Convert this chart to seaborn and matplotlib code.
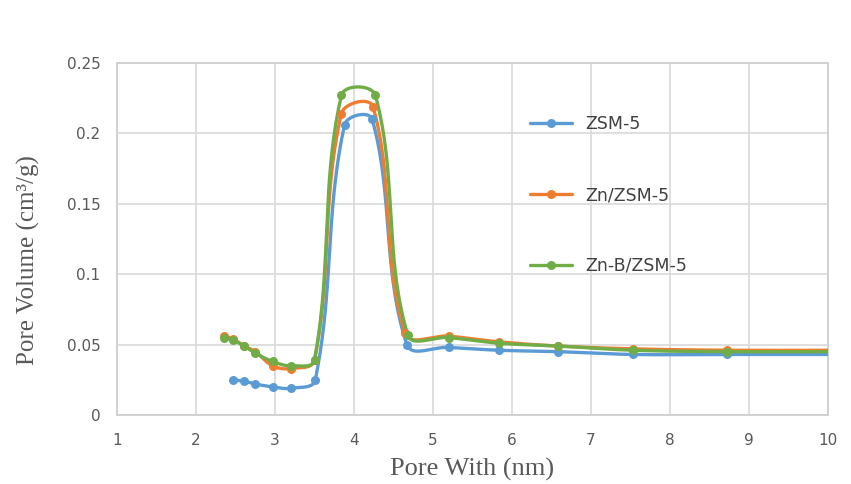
import numpy as np
import pandas as pd
import matplotlib
matplotlib.use("Agg")
import matplotlib.pyplot as plt
from matplotlib.lines import Line2D
import seaborn as sns

# ---- data ----
series_names = ["ZSM-5", "Zn/ZSM-5", "Zn-B/ZSM-5"]
x_zsm5 = [2.47, 2.61, 2.75, 2.97, 3.20, 3.51, 3.88, 4.23, 4.67, 5.20, 5.83, 6.58, 7.53, 8.72, 10.3]
y_zsm5 = [0.025, 0.024, 0.022, 0.020, 0.019, 0.025, 0.206, 0.210, 0.050, 0.048, 0.046, 0.045, 0.043, 0.043, 0.043]
x_zn = [2.35, 2.47, 2.61, 2.75, 2.97, 3.20, 3.50, 3.84, 4.24, 4.65, 5.20, 5.83, 6.58, 7.53, 8.72, 10.3]
y_zn = [0.056, 0.054, 0.049, 0.045, 0.035, 0.033, 0.039, 0.214, 0.219, 0.058, 0.056, 0.052, 0.049, 0.047, 0.046, 0.046]
x_znb = [2.35, 2.47, 2.61, 2.75, 2.97, 3.20, 3.50, 3.84, 4.27, 4.68, 5.20, 5.83, 6.58, 7.53, 8.72, 10.3]
y_znb = [0.055, 0.053, 0.049, 0.044, 0.038, 0.035, 0.039, 0.227, 0.227, 0.057, 0.055, 0.051, 0.049, 0.046, 0.045, 0.045]
x_ticks = [1, 2, 3, 4, 5, 6, 7, 8, 9, 10]
y_ticks = [0, 0.05, 0.10, 0.15, 0.20, 0.25]
y_tick_labels = ["0", "0.05", "0.1", "0.15", "0.2", "0.25"]
colors = ["#5B9BD5", "#ED7D31", "#70AD47"]


def smooth(xs, ys, sx=79.0, sy=1408.0, f=0.38, n=40):
    """Excel-like smoothed line: Bezier segments with chord-weighted tangents."""
    P = np.column_stack([np.asarray(xs) * sx, np.asarray(ys) * sy])
    m = len(P)
    out = [P[0]]
    for i in range(m - 1):
        p0 = P[i - 1] if i > 0 else P[i]
        p1, p2 = P[i], P[i + 1]
        p3 = P[i + 2] if i + 2 < m else P[i + 1]
        d01 = np.linalg.norm(p1 - p0)
        d12 = np.linalg.norm(p2 - p1)
        d23 = np.linalg.norm(p3 - p2)
        w1 = d12 / (d01 + d12) if (d01 + d12) > 0 else 0
        w2 = d12 / (d12 + d23) if (d12 + d23) > 0 else 0
        c1 = p1 + (p2 - p0) * f * w1
        c2 = p2 - (p3 - p1) * f * w2
        t = np.linspace(0, 1, n)[1:, None]
        seg = ((1 - t) ** 3) * p1 + 3 * ((1 - t) ** 2) * t * c1 + 3 * (1 - t) * t ** 2 * c2 + t ** 3 * p2
        out.extend(seg)
    out = np.array(out)
    return out[:, 0] / sx, out[:, 1] / sy


sns.set_style("white")
plt.rcParams["font.family"] = ["DejaVu Sans"]

fig = plt.figure(figsize=(8.51, 4.84), dpi=100)
ax = fig.add_axes([117 / 851, 1 - 415 / 484, (828 - 117) / 851, (415 - 63) / 484])

all_x = [x_zsm5, x_zn, x_znb]
all_y = [y_zsm5, y_zn, y_znb]
for name, xs, ys, c in zip(series_names, all_x, all_y, colors):
    cx, cy = smooth(xs, ys)
    curve = pd.DataFrame({"x": cx, "y": cy})
    sns.lineplot(data=curve, x="x", y="y", sort=False, estimator=None, color=c,
                 linewidth=2.4, ax=ax, legend=False, zorder=3)
    pts = pd.DataFrame({"x": xs, "y": ys})
    sns.scatterplot(data=pts, x="x", y="y", color=c, s=42, linewidth=0,
                    ax=ax, legend=False, zorder=4, clip_on=True)

ax.set_xlim(1, 10)
ax.set_ylim(0, 0.25)
ax.set_xticks(x_ticks)
ax.set_xticklabels([str(v) for v in x_ticks])
ax.set_yticks(y_ticks)
ax.set_yticklabels(y_tick_labels)
ax.tick_params(axis="both", length=0, labelsize=11, colors="#595959")
ax.tick_params(axis="x", pad=13)
ax.tick_params(axis="y", pad=12)
ax.grid(True, color="#d9d9d9", linewidth=1.2)
ax.set_axisbelow(True)
for s in ax.spines.values():
    s.set_visible(True)
    s.set_color("#cfcfcf")
    s.set_linewidth(1.3)

ax.set_xlabel("Pore With (nm)", family="Liberation Serif", fontsize=19, color="#595959")
ax.set_ylabel("Pore Volume (cm³/g)", family="Liberation Serif", fontsize=18, color="#595959")
ax.xaxis.label.set_va("center")
ax.yaxis.label.set_va("center")
ax.xaxis.set_label_coords(0.5, -0.155)
ax.yaxis.set_label_coords(-0.125, 0.44)

handles = [Line2D([0], [0], color=c, linewidth=2.4, marker="o", markersize=6.5,
                  markeredgewidth=0) for c in colors]
leg = ax.legend(handles, series_names, loc="upper left", bbox_to_anchor=(0.581, 0.852),
                frameon=False, fontsize=12.5, handlelength=2.4, handletextpad=0.8,
                labelspacing=3.05, borderpad=0, borderaxespad=0)
for t in leg.get_texts():
    t.set_color("#404040")

fig.savefig("out.png", dpi=100)
